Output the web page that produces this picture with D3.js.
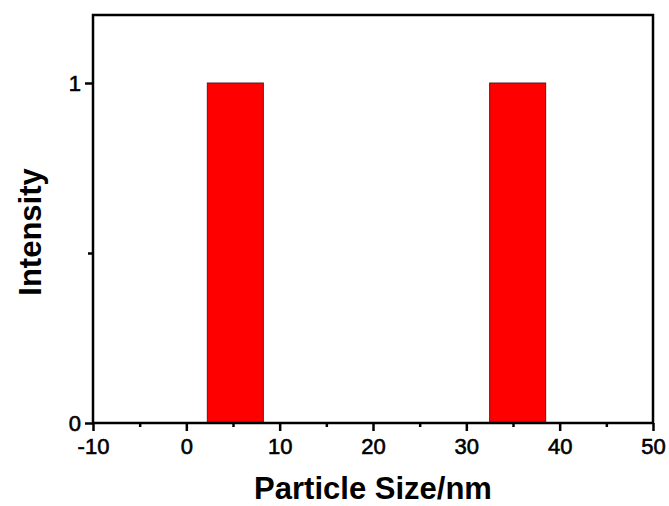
<!DOCTYPE html>
<html><head><meta charset="utf-8">
<script src="https://cdn.jsdelivr.net/npm/d3@7"></script>
<style>body{margin:0;background:#fff;}svg{display:block;}</style>
</head><body>
<script>
const sizes = [5.25, 35.5];
const intensities = [1, 1];
const barWidth = 6;
const xTicks = [-10, 0, 10, 20, 30, 40, 50];
const xMinorTicks = [-5, 5, 15, 25, 35, 45];
const yTicks = [0, 1];
const yMinorTicks = [0.5];

const W = 669, H = 506;
const m = {left: 93, right: 16, top: 15, bottom: 83};
const svg = d3.select("body").append("svg").attr("width", W).attr("height", H);
const x = d3.scaleLinear().domain([-10, 50]).range([m.left, W - m.right]);
const y = d3.scaleLinear().domain([0, 1.2]).range([H - m.bottom, m.top]);
const font = "'Liberation Sans', Arial, sans-serif";
const fmt = (d) => String(d);

// bars
svg.append("g").selectAll("rect").data(sizes).join("rect")
  .attr("x", (d) => x(d - barWidth / 2))
  .attr("width", (d) => x(d + barWidth / 2) - x(d - barWidth / 2))
  .attr("y", (d, i) => y(intensities[i]))
  .attr("height", (d, i) => y(0) - y(intensities[i]))
  .attr("fill", "#ff0000").attr("stroke", "#5a1a1a").attr("stroke-width", 1);

// frame
svg.append("rect").attr("x", x(-10)).attr("y", y(1.2))
  .attr("width", x(50) - x(-10)).attr("height", y(0) - y(1.2))
  .attr("fill", "none").attr("stroke", "#000").attr("stroke-width", 2.5);

// x axis
const gx = svg.append("g").attr("transform", `translate(0,${y(0)})`);
gx.call(d3.axisBottom(x).tickValues(xTicks).tickSize(8).tickPadding(7).tickFormat(fmt));
gx.append("g").call(d3.axisBottom(x).tickValues(xMinorTicks).tickSize(4).tickFormat(""));
gx.selectAll(".domain").remove();
gx.selectAll("line").attr("stroke", "#000").attr("stroke-width", 2.5);
gx.selectAll("text").attr("font-family", font).style("font-size", "22px").attr("fill", "#000")
  .attr("stroke", "#000").attr("stroke-width", 0.6);

// y axis
const gy = svg.append("g").attr("transform", `translate(${x(-10)},0)`);
gy.call(d3.axisLeft(y).tickValues(yTicks).tickSize(8).tickPadding(4).tickFormat(fmt));
gy.append("g").call(d3.axisLeft(y).tickValues(yMinorTicks).tickSize(5).tickFormat(""));
gy.selectAll(".domain").remove();
gy.selectAll("line").attr("stroke", "#000").attr("stroke-width", 2.5);
gy.selectAll("text").attr("font-family", font).style("font-size", "22px").attr("fill", "#000")
  .attr("stroke", "#000").attr("stroke-width", 0.6);

// labels
svg.append("text").attr("x", (x(-10) + x(50)) / 2).attr("y", 499)
  .attr("text-anchor", "middle").attr("font-family", font).attr("font-weight", "bold")
  .attr("font-size", 31).text("Particle Size/nm");
svg.append("text").attr("transform", `translate(41,${(y(0) + y(1.2)) / 2 + 13}) rotate(-90)`)
  .attr("text-anchor", "middle").attr("font-family", font).attr("font-weight", "bold")
  .attr("font-size", 31).text("Intensity");
</script>
</body></html>
